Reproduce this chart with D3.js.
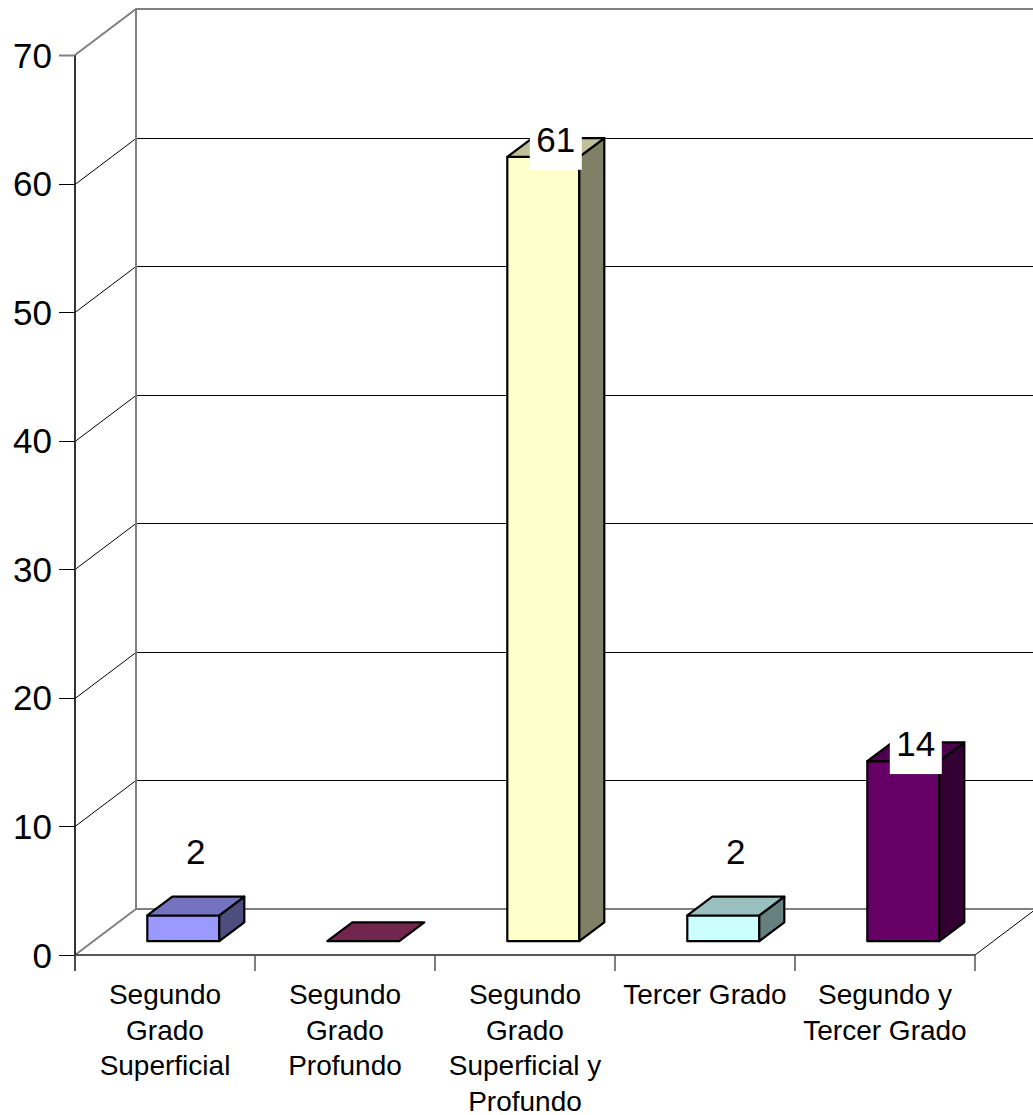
<!DOCTYPE html>
<html><head><meta charset="utf-8">
<script src="https://cdn.jsdelivr.net/npm/d3@7"></script>
<style>body{margin:0;background:#fff}svg{display:block}text{font-family:"Liberation Sans",Arial,sans-serif;fill:#000}</style>
</head><body><svg id="c" width="1033" height="1115"></svg>
<script>
const categories = ["Segundo Grado Superficial","Segundo Grado Profundo","Segundo Grado Superficial y Profundo","Tercer Grado","Segundo y Tercer Grado"];
const values = [2, 0, 61, 2, 14];
const barColors = ["#9999FF","#993366","#FFFFCC","#CCFFFF","#660066"];
const yTicks = [0,10,20,30,40,50,60,70];

const svg = d3.select("#c");
const x = d3.scaleBand().domain(categories).range([75,975]).paddingInner(0).paddingOuter(0);
const y = d3.scaleLinear().domain([0,70]).range([955,55]);
const DX = 61, DY = -46;          // depth of the 3D floor
const f0 = 0.30, f1 = 0.71;       // bar front/back depth fractions
const bw = x.bandwidth();
const barW = bw*0.4, barOff = bw*0.3;
const xL = x.range()[0], xR = x.range()[1];
const r = v => Math.round(v) + 0.5;

const g = svg.append("g");
// back wall gridlines
g.selectAll("line.grid").data(yTicks.filter(t=>t>0 && t<70)).enter().append("line")
  .attr("x1", xL+DX).attr("x2", xR+DX).attr("y1", d=>r(y(d)+DY)).attr("y2", d=>r(y(d)+DY))
  .attr("stroke","#000").attr("stroke-width",1);
// side wall diagonals
g.selectAll("line.diag").data(yTicks.filter(t=>t>0 && t<70)).enter().append("line")
  .attr("x1", xL).attr("x2", xL+DX).attr("y1", d=>r(y(d))).attr("y2", d=>r(y(d)+DY))
  .attr("stroke","#000").attr("stroke-width",1);
// wall borders (grey)
const grey = "#808080";
const border = [
  [[xL,y(70)],[xL+DX,y(70)+DY],[xR+DX,y(70)+DY]],
  [[xL+DX,y(70)+DY],[xL+DX,y(0)+DY],[xR+DX,y(0)+DY]],
  [[xL,y(0)],[xL+DX,y(0)+DY]]
];
border.forEach(p=>g.append("path").attr("d",d3.line()(p)).attr("fill","none").attr("stroke",grey).attr("stroke-width",2));
// right floor edge
g.append("line").attr("x1",xR).attr("y1",y(0)).attr("x2",xR+DX).attr("y2",y(0)+DY).attr("stroke","#000").attr("stroke-width",1);

// bars
const bars = svg.append("g");
values.forEach((v,i)=>{
  const c = categories[i];
  const x0 = x(c)+barOff, x1 = x0+barW;
  const ox0 = f0*DX, oy0 = f0*DY, ox1 = f1*DX, oy1 = f1*DY;
  const yt = y(v), yb = y(0);
  const base = d3.rgb(barColors[i]);
  const top = d3.rgb(base.r*0.75, base.g*0.75, base.b*0.75);
  const side = d3.rgb(base.r*0.5, base.g*0.5, base.b*0.5);
  const poly = (pts, fill)=>{
    bars.append("path").attr("d", d3.line()(pts)+"Z").attr("fill", fill)
      .attr("stroke","#000").attr("stroke-width",2.2).attr("stroke-linejoin","round");
  };
  if (v > 0) {
    poly([[x0+ox0,yt+oy0],[x1+ox0,yt+oy0],[x1+ox0,yb+oy0],[x0+ox0,yb+oy0]], base.formatHex());
    poly([[x1+ox0,yt+oy0],[x1+ox1,yt+oy1],[x1+ox1,yb+oy1],[x1+ox0,yb+oy0]], side.formatHex());
  }
  poly([[x0+ox0,yt+oy0],[x1+ox0,yt+oy0],[x1+ox1,yt+oy1],[x0+ox1,yt+oy1]], top.formatHex());
});

// data labels
const lab = svg.append("g");
values.forEach((v,i)=>{
  if (v <= 0) return;
  const c = categories[i];
  const cx = x(c)+barOff+barW/2 + (f0+f1)/2*DX;
  const by = y(Math.max(v,5.6)+0.4) + f0*DY;
  lab.append("rect").attr("x",cx-26).attr("y",by-30).attr("width",52).attr("height",48).attr("fill","#fff");
  lab.append("text").attr("x",cx).attr("y",by).attr("text-anchor","middle").attr("font-size",35).text(v);
});

// y axis
const ax = svg.append("g");
ax.append("line").attr("x1",xL).attr("x2",xL).attr("y1",y(70)).attr("y2",y(0)+16).attr("stroke","#333").attr("stroke-width",2);
ax.selectAll("line.yt").data(yTicks).enter().append("line")
  .attr("x1",xL-16).attr("x2",xL).attr("y1",d=>r(y(d))).attr("y2",d=>r(y(d)))
  .attr("stroke",d=>d===70?grey:"#000").attr("stroke-width",d=>d===70?2:1);
ax.selectAll("text.yl").data(yTicks).enter().append("text")
  .attr("x",xL-23).attr("y",d=>y(d)+12.6).attr("text-anchor","end").attr("font-size",35).text(d=>d);

// x axis
ax.append("line").attr("x1",xL).attr("x2",xR).attr("y1",y(0)).attr("y2",y(0)).attr("stroke","#222").attr("stroke-width",1.5);
const xt = [xL, ...categories.map(c=>x(c)+bw)];
ax.selectAll("line.xt").data(xt).enter().append("line")
  .attr("x1",d=>d).attr("x2",d=>d).attr("y1",y(0)).attr("y2",y(0)+16)
  .attr("stroke","#555").attr("stroke-width",1.5);

// category labels with wrapping
categories.forEach(c=>{
  const t = ax.append("text").attr("x",x(c)+bw/2).attr("y",1004).attr("text-anchor","middle").attr("font-size",28);
  const words = c.split(" ");
  let lines = [], cur = [];
  const probe = ax.append("text").attr("font-size",28);
  words.forEach(w=>{
    const test = cur.concat([w]).join(" ");
    probe.text(test);
    if (cur.length && probe.node().getComputedTextLength() > 176) { lines.push(cur.join(" ")); cur=[w]; }
    else cur.push(w);
  });
  lines.push(cur.join(" "));
  probe.remove();
  lines.forEach((l,k)=>t.append("tspan").attr("x",x(c)+bw/2).attr("y",1004+k*35.5).text(l));
});
</script></body></html>
